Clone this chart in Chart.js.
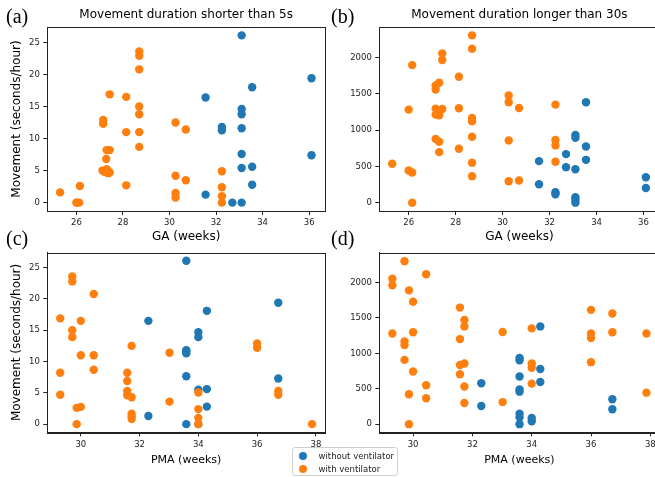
<!DOCTYPE html>
<html><head><meta charset="utf-8">
<script src="https://cdn.jsdelivr.net/npm/chart.js@4"></script>
<style>
html,body{margin:0;padding:0;background:#fff;overflow:hidden;width:655px;height:477px;position:relative;}
canvas.cv{position:absolute;}
.lbl{position:absolute;font-family:"Liberation Serif","DejaVu Serif",serif;font-size:20px;line-height:20px;color:#000;white-space:nowrap;}
#legend{position:absolute;left:291.5px;top:447px;width:104px;height:27px;border:1px solid #d0d0d0;border-radius:3px;background:rgba(255,255,255,0.8);font-family:"DejaVu Sans",sans-serif;font-size:8.5px;color:#222;}
#legend .row{position:absolute;left:0;height:12px;line-height:12px;white-space:nowrap;}
#legend .dot{position:absolute;left:6.5px;top:2px;width:8px;height:8px;border-radius:50%;}
#legend .txt{position:absolute;left:26px;top:0;}
</style></head><body>
<canvas id="ca" class="cv" width="330" height="244" style="left:0;top:0"></canvas>
<canvas id="cb" class="cv" width="340" height="244" style="left:325px;top:0"></canvas>
<canvas id="cc" class="cv" width="330" height="233" style="left:0;top:244px"></canvas>
<canvas id="cd" class="cv" width="340" height="233" style="left:325px;top:244px"></canvas>
<div class="lbl" style="left:6px;top:5.5px">(a)</div>
<div class="lbl" style="left:331px;top:5.5px">(b)</div>
<div class="lbl" style="left:6px;top:228px">(c)</div>
<div class="lbl" style="left:331px;top:228px">(d)</div>
<div id="legend"></div>
<script>
// ---------------- data ----------------
const seriesNames = ['without ventilator', 'with ventilator'];
const panelTitles = ['Movement duration shorter than 5s', 'Movement duration longer than 30s'];

// (a) GA vs movement < 5s
const aNoVentGA = [33.1, 36.1, 33.55, 31.55, 33.1, 33.1, 32.25, 32.25, 33.1, 33.1, 36.1, 33.1, 33.55, 33.55, 31.55, 32.7, 33.1];
const aNoVentMov = [26.1, 19.4, 18.0, 16.4, 14.6, 13.8, 11.8, 11.3, 11.6, 7.6, 7.4, 5.4, 5.6, 2.8, 1.25, 0, 0];
const aVentGA = [25.3, 26.0, 26.02, 26.12, 26.15, 27.15, 27.15, 27.3, 27.43, 27.28, 27.12, 27.2, 27.3, 27.36, 27.43, 27.43,
  28.14, 28.14, 28.14, 28.7, 28.7, 28.7, 28.7, 28.7, 28.7, 28.7, 30.26, 30.26, 30.26, 30.26, 30.7, 30.7, 32.25, 32.25, 32.25, 32.25];
const aVentMov = [1.6, 0, 0, 0, 2.6, 12.9, 12.3, 8.2, 8.2, 6.8, 5.0, 4.8, 5.2, 4.6, 4.7, 16.9,
  16.5, 11.0, 2.7, 23.6, 22.9, 20.8, 15.0, 13.8, 11.0, 8.7, 12.5, 4.2, 1.5, 0.8, 11.4, 3.5, 4.9, 2.4, 1.0, 0];

// (b) GA vs movement > 30s
const bNoVentGA = [33.55, 33.1, 33.1, 33.55, 33.55, 32.7, 32.7, 33.1, 31.55, 31.55, 32.25, 32.25, 33.1, 33.1, 33.1, 36.1, 36.1];
const bNoVentMov = [1386, 933, 896, 776, 591, 670, 490, 462, 573, 254, 143, 115, 74, 37, 0, 351, 203];
const bVentGA = [25.3, 26.0, 26.0, 26.15, 26.15, 26.15, 27.15, 27.15, 27.15, 27.15, 27.15, 27.3, 27.3, 27.3, 27.3, 27.3,
  27.43, 27.43, 27.43, 28.14, 28.14, 28.14, 28.7, 28.7, 28.7, 28.7, 28.7, 28.7, 28.7,
  30.26, 30.26, 30.26, 30.26, 30.7, 30.7, 32.25, 32.25, 32.25, 32.25];
const bVentMov = [536, 443, 1284, 416, 0, 1898, 1617, 1561, 1298, 1215, 878, 1654, 1205, 1250, 840, 697,
  2060, 1968, 1293, 1737, 1302, 744, 2309, 2125, 1169, 1122, 910, 550, 365,
  1478, 1386, 859, 296, 1307, 305, 1353, 864, 790, 564];

// (c) PMA vs movement < 5s
const cNoVentPMA = [33.59, 36.72, 34.29, 32.3, 34.0, 34.0, 33.59, 33.59, 33.59, 33.59, 36.72, 34.0, 34.29, 34.29, 32.3, 33.59, 34.0];
const cNoVentMov = [26.1, 19.4, 18.1, 16.5, 14.7, 13.9, 11.8, 11.3, 11.6, 7.65, 7.3, 5.5, 5.6, 2.8, 1.3, 0, 0];
const cVentPMA = [29.3, 29.3, 29.3, 29.71, 29.71, 29.71, 29.71, 29.86, 29.86, 30.0, 30.0, 30.0, 30.44, 30.44, 30.44,
  31.58, 31.58, 31.58, 31.58, 31.73, 31.73, 31.73, 31.73, 31.73, 33.02, 33.02, 34.0, 34.0, 34.0, 34.0,
  36.0, 36.0, 36.72, 36.72, 37.87];
const cVentMov = [16.9, 8.2, 4.7, 23.6, 22.8, 15.0, 13.9, 2.6, 0, 2.76, 16.5, 11.0, 20.8, 11.0, 8.7,
  8.2, 6.9, 5.3, 4.6, 12.5, 4.3, 1.67, 1.2, 0.8, 11.4, 3.6, 5.05, 2.4, 1.0, 0,
  12.9, 12.2, 5.3, 4.7, 0];

// (d) PMA vs movement > 30s
const dNoVentPMA = [34.29, 34.29, 34.29, 33.59, 33.59, 33.59, 33.59, 33.59, 33.59, 33.59, 33.59, 32.3, 32.3, 34.0, 34.0, 36.72, 36.72];
const dNoVentMov = [1381, 780, 596, 936, 904, 674, 491, 459, 147, 96, 0, 578, 257, 87, 41, 353, 211];
const dVentPMA = [29.3, 29.3, 29.3, 29.71, 29.71, 29.71, 29.71, 29.86, 29.86, 29.86, 30.0, 30.0, 30.0, 30.44, 30.44, 30.44,
  31.58, 31.58, 31.58, 31.58, 31.73, 31.73, 31.73, 31.73, 31.73, 33.02, 33.02, 34.0, 34.0, 34.0, 34.0,
  36.0, 36.0, 36.0, 36.0, 36.72, 36.72, 37.87, 37.87];
const dVentMov = [2055, 1963, 1280, 2303, 1170, 1119, 908, 1890, 422, 0, 1729, 1298, 743, 2119, 550, 367,
  1647, 1202, 835, 706, 1472, 1381, 858, 532, 298, 1303, 312, 1353, 858, 798, 573,
  1615, 1280, 1216, 876, 1564, 1298, 1280, 445];

// tick labels
const gaTicks = [26, 28, 30, 32, 34, 36];
const pmaTicks = [30, 32, 34, 36, 38];
const shortTicks = [0, 5, 10, 15, 20, 25];
const longTicks = [0, 500, 1000, 1500, 2000];
const axisTitles = {ga: 'GA (weeks)', pma: 'PMA (weeks)', mov: 'Movement (seconds/hour)'};

// ---------------- styling ----------------
const BLUE = '#1f77b4', ORANGE = '#ff7f0e';
const FONT = '"DejaVu Sans", sans-serif';
const INK = '#222';

const framePlugin = {
  id: 'frame',
  afterDraw(chart) {
    const {ctx, chartArea: a} = chart;
    ctx.save();
    ctx.strokeStyle = INK; ctx.lineWidth = 1;
    ctx.strokeRect(Math.round(a.left) + 0.5, Math.round(a.top) + 0.5, Math.round(a.right - a.left), Math.round(a.bottom - a.top));
    ctx.restore();
  }
};
const titlePlugin = {
  id: 'panelTitle',
  afterDraw(chart, args, o) {
    if (!o || !o.text) return;
    const {ctx, chartArea: a} = chart;
    ctx.save();
    ctx.font = '12px ' + FONT; ctx.fillStyle = '#000';
    ctx.textAlign = 'center'; ctx.textBaseline = 'middle';
    ctx.fillText(o.text, (a.left + a.right) / 2, o.y);
    ctx.restore();
  }
};

function pts(xs, ys) { return xs.map((x, i) => ({x: x, y: ys[i]})); }

function panel(id, p) {
  const tickFont = {family: FONT, size: 8.5};
  new Chart(document.getElementById(id), {
    type: 'scatter',
    data: {
      datasets: [
        {label: seriesNames[0], data: pts(p.bx, p.by), backgroundColor: BLUE, borderWidth: 0, pointRadius: 4.2, order: 1},
        {label: seriesNames[1], data: pts(p.ox, p.oy), backgroundColor: ORANGE, borderWidth: 0, pointRadius: 4.2, order: 0}
      ]
    },
    options: {
      responsive: false, animation: false, devicePixelRatio: 1,
      layout: {padding: {top: p.padTop, right: p.padRight, left: 0, bottom: 0}},
      plugins: {legend: {display: false}, tooltip: {enabled: false}, panelTitle: {text: p.title, y: p.titleY}},
      scales: {
        x: {
          type: 'linear', min: p.xMin, max: p.xMax,
          afterBuildTicks: s => { s.ticks = p.xTicks.map(v => ({value: v})); },
          afterFit: s => { s.height = p.xHeight; },
          ticks: {font: tickFont, color: INK, padding: 3, maxRotation: 0, autoSkip: false, callback: v => String(v)},
          grid: {drawOnChartArea: false, drawTicks: true, tickLength: 4, tickColor: INK, tickWidth: 1},
          border: {display: true, color: INK, width: 1},
          title: {display: true, text: p.xTitle, color: '#000', font: {family: FONT, size: p.xTitleSize}, padding: {top: 0, bottom: p.xTitlePad}}
        },
        y: {
          type: 'linear', min: p.yMin, max: p.yMax,
          afterBuildTicks: s => { s.ticks = p.yTicks.map(v => ({value: v})); },
          afterFit: s => { s.width = p.yWidth; },
          ticks: {font: tickFont, color: INK, padding: 3.5, autoSkip: false, callback: v => String(v)},
          grid: {drawOnChartArea: false, drawTicks: true, tickLength: 4, tickColor: INK, tickWidth: 1},
          border: {display: true, color: INK, width: 1},
          title: {display: !!p.yTitle, text: p.yTitle || '', color: '#000', font: {family: FONT, size: 12}, padding: {top: 9.3, bottom: 0}}
        }
      }
    },
    plugins: [framePlugin, titlePlugin]
  });
}

const gaRange = [24.75, 36.68], pmaRange = [28.86, 38.31];
const shortRange = [-1.305, 27.405], longRange = [-115, 2424];

panel('ca', {bx: aNoVentGA, by: aNoVentMov, ox: aVentGA, oy: aVentMov,
  xMin: gaRange[0], xMax: gaRange[1], yMin: shortRange[0], yMax: shortRange[1], xTicks: gaTicks, yTicks: shortTicks,
  xTitle: axisTitles.ga, xTitleSize: 12, xTitlePad: 0, yTitle: axisTitles.mov, title: panelTitles[0], titleY: 15,
  padTop: 27, padRight: 5, yWidth: 47.3, xHeight: 33});
panel('cb', {bx: bNoVentGA, by: bNoVentMov, ox: bVentGA, oy: bVentMov,
  xMin: gaRange[0], xMax: gaRange[1], yMin: longRange[0], yMax: longRange[1], xTicks: gaTicks, yTicks: longTicks,
  xTitle: axisTitles.ga, xTitleSize: 12, xTitlePad: 0, yTitle: null, title: panelTitles[1], titleY: 15,
  padTop: 27, padRight: 5.5, yWidth: 54.3, xHeight: 33});
panel('cc', {bx: cNoVentPMA, by: cNoVentMov, ox: cVentPMA, oy: cVentMov,
  xMin: pmaRange[0], xMax: pmaRange[1], yMin: shortRange[0], yMax: shortRange[1], xTicks: pmaTicks, yTicks: shortTicks,
  xTitle: axisTitles.pma, xTitleSize: 11, xTitlePad: 10.4, yTitle: axisTitles.mov, title: null, titleY: 0,
  padTop: 4.3, padRight: 5, yWidth: 47.3, xHeight: 44.7});
panel('cd', {bx: dNoVentPMA, by: dNoVentMov, ox: dVentPMA, oy: dVentMov,
  xMin: pmaRange[0], xMax: pmaRange[1], yMin: longRange[0], yMax: longRange[1], xTicks: pmaTicks, yTicks: longTicks,
  xTitle: axisTitles.pma, xTitleSize: 11, xTitlePad: 10.4, yTitle: null, title: null, titleY: 0,
  padTop: 4.3, padRight: 5.5, yWidth: 54.3, xHeight: 44.7});

// legend (HTML, real text)
const lg = document.getElementById('legend');
[BLUE, ORANGE].forEach((c, i) => {
  const row = document.createElement('div');
  row.className = 'row';
  row.style.top = (i === 0 ? 1.7 : 15.3) + 'px';
  row.innerHTML = '<span class="dot" style="background:' + c + '"></span><span class="txt"></span>';
  row.querySelector('.txt').textContent = seriesNames[i];
  row.style.width = '100px';
  lg.appendChild(row);
});
</script>
</body></html>
